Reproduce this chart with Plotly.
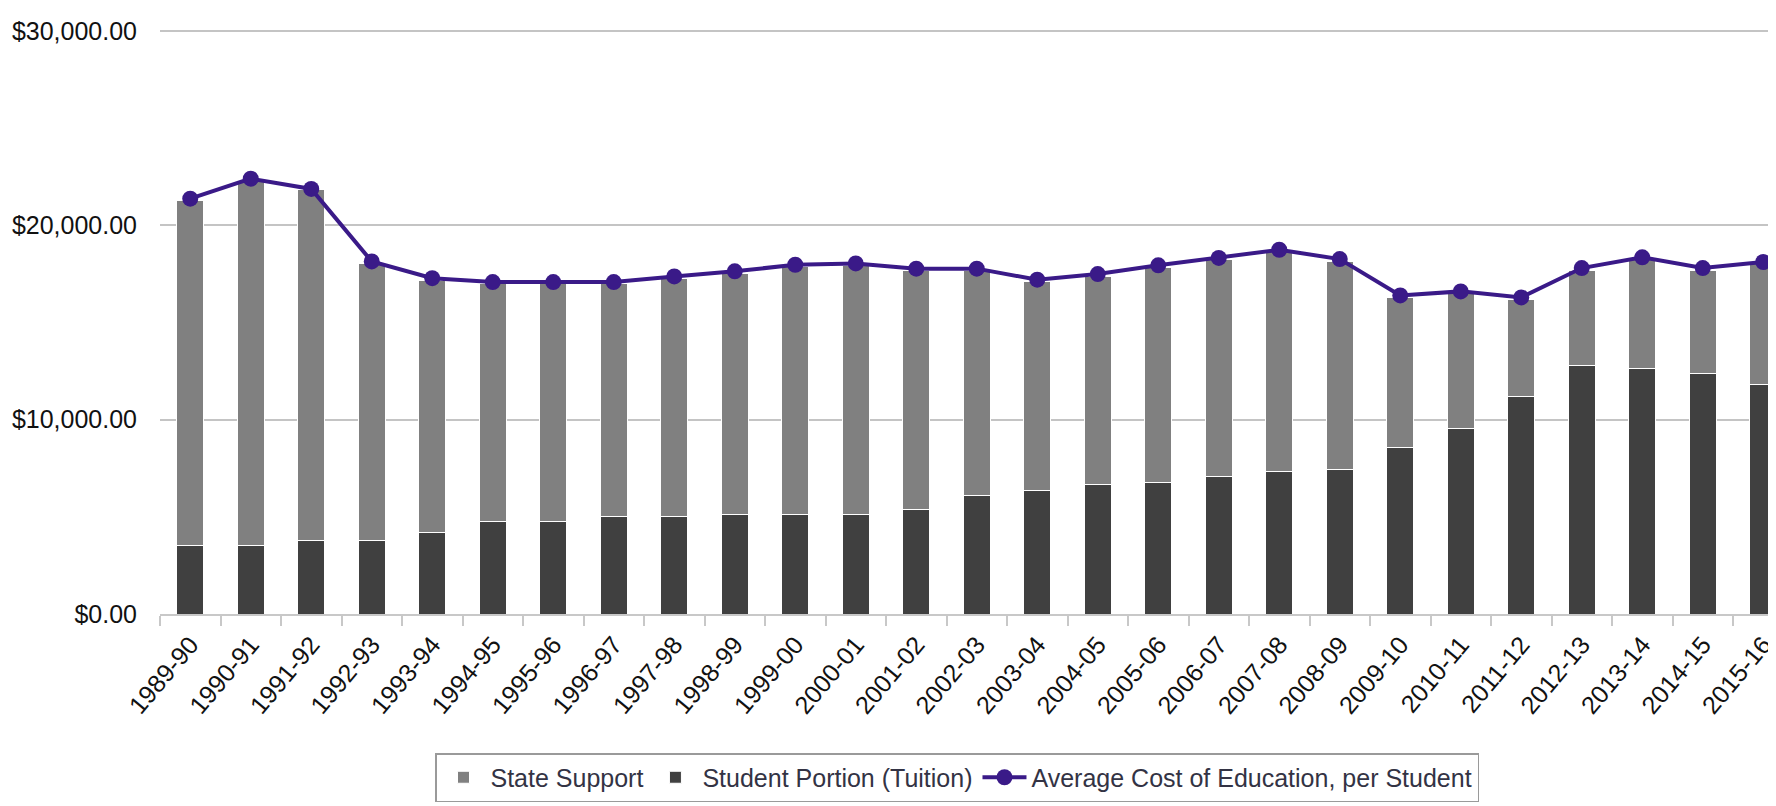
import plotly.graph_objects as go

years = ["1989-90", "1990-91", "1991-92", "1992-93", "1993-94", "1994-95", "1995-96",
         "1996-97", "1997-98", "1998-99", "1999-00", "2000-01", "2001-02", "2002-03",
         "2003-04", "2004-05", "2005-06", "2006-07", "2007-08", "2008-09", "2009-10",
         "2010-11", "2011-12", "2012-13", "2013-14", "2014-15", "2015-16"]

state_support = [17760, 18790, 18070, 14270, 13000, 12230, 12230, 11970, 12260, 12390,
                 12730, 12800, 12270, 11580, 10750, 10750, 11070, 11150, 11310, 10700,
                 7730, 6980, 5020, 4910, 5600, 5310, 6220]

tuition = [3510, 3510, 3770, 3770, 4180, 4750, 4750, 5010, 5010, 5140, 5140, 5140, 5400,
           6090, 6350, 6640, 6770, 7070, 7330, 7460, 8560, 9520, 11170, 12790, 12650,
           12390, 11790]

avg_cost = [21370, 22400, 21870, 18140, 17280, 17080, 17080, 17080, 17370, 17630, 17970,
            18040, 17770, 17770, 17200, 17490, 17940, 18320, 18740, 18260, 16390, 16600,
            16290, 17800, 18350, 17800, 18110]

FONT = "Liberation Sans, Arial, sans-serif"
PURPLE = "#3a1a88"

fig = go.Figure()
fig.add_trace(go.Bar(
    x=years, y=tuition, name="Student Portion (Tuition)",
    marker=dict(color="#404040", line=dict(color="#ffffff", width=1)),
    legendrank=2,
))
fig.add_trace(go.Bar(
    x=years, y=state_support, name="State Support",
    marker=dict(color="#808080", line=dict(color="#ffffff", width=1)),
    legendrank=1,
))
fig.add_trace(go.Scatter(
    x=years, y=avg_cost, name="Average Cost of Education, per Student",
    mode="lines+markers",
    line=dict(color=PURPLE, width=4),
    marker=dict(color=PURPLE, size=16),
    legendrank=3,
))

plot_left = 152
plot_w = 1776 - plot_left
cat_w = 60.5

fig.update_layout(
    width=1776, height=806,
    margin=dict(l=plot_left, r=0, t=21, b=200, pad=0),
    paper_bgcolor="white", plot_bgcolor="white",
    barmode="stack", bargap=0.56,
    font=dict(family=FONT, size=24, color="#222222"),
    showlegend=True,
    legend=dict(
        orientation="h", xref="paper", yref="container",
        x=(949 - plot_left) / plot_w, xanchor="center",
        y=1 - 745 / 806, yanchor="top",
        traceorder="normal",
        bordercolor="#9a9a9a", borderwidth=1.5, bgcolor="white",
        font=dict(family=FONT, size=25, color="#333344"),
        itemwidth=44, tracegroupgap=0,
    ),
    xaxis=dict(
        type="category",
        range=[-0.5, -0.5 + plot_w / cat_w],
        tickangle=-50,
        tickson="boundaries",
        ticks="outside", ticklen=10, tickcolor="#c8c8c8", tickwidth=1.5,
        showline=True, linecolor="#c8c8c8", linewidth=2,
        showgrid=False,
        ticklabelstandoff=4,
        tickfont=dict(family=FONT, size=25, color="#111111"),
        fixedrange=True,
    ),
    yaxis=dict(
        range=[0, 30100],
        tickvals=[0, 10000, 20000, 30000],
        tickformat="$,.2f",
        showgrid=True, gridcolor="#c4c4c4", gridwidth=2,
        zeroline=False, showline=False,
        ticks="", ticklabelstandoff=22,
        tickfont=dict(family=FONT, size=25, color="#111111"),
        fixedrange=True,
    ),
)

fig.write_html("out.html")
